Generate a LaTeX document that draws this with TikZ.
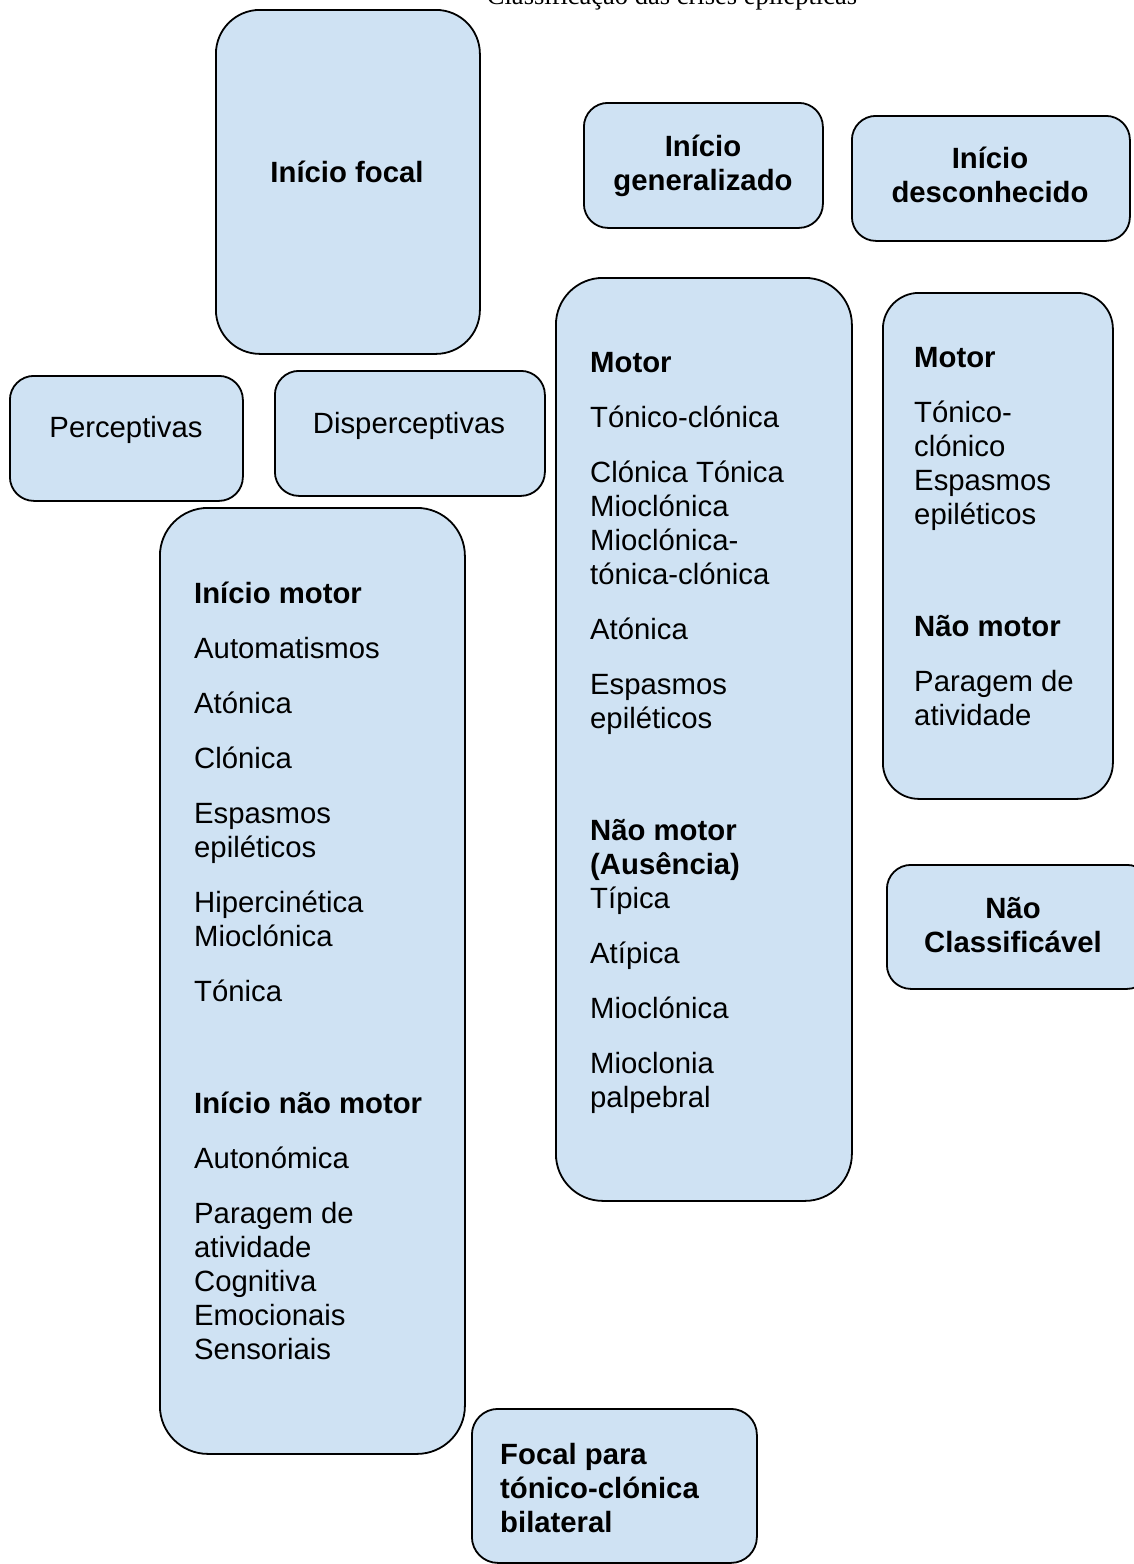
\documentclass[tikz,border=0pt]{standalone}
\usepackage{fontspec}
\setmainfont{Liberation Sans}
\newfontfamily\titlefont{Liberation Serif}
\definecolor{boxblue}{HTML}{CFE2F3}
% stacked lines; [t] keeps the node's baseline on the first line
\newcommand\rows[2]{\begin{tabular}[t]{@{}#1@{}}#2\end{tabular}}

\begin{document}
\begin{tikzpicture}[x=1pt,y=-1pt,
  card/.style={draw=black, line width=1.8pt, fill=boxblue,
    rounded corners=#1pt, anchor=north west, inner sep=0pt},
  txt/.style={inner sep=0pt, anchor=base west,
    font=\fontsize{29.3}{34}\selectfont},
  ctxt/.style={inner sep=0pt, anchor=base,
    font=\fontsize{29.3}{34}\selectfont},
  btxt/.style={ctxt, font=\fontsize{29.3}{34}\selectfont\bfseries}]

\useasboundingbox (0,0) rectangle (1134,1564);

% title
\node[inner sep=0pt, anchor=base, font=\titlefont\fontsize{26.5}{30}\selectfont]
  (title) at (672,4) {Classificação das crises epilépticas};

% boxes
\node[card=44, minimum width=264pt, minimum height=344pt] (focal) at (215,9) {};
\node[card=24, minimum width=239pt, minimum height=125pt] (gen) at (583,102) {};
\node[card=24, minimum width=278pt, minimum height=125pt] (desc) at (851,115) {};
\node[card=24, minimum width=233pt, minimum height=125pt] (perc) at (9,375) {};
\node[card=24, minimum width=270pt, minimum height=125pt] (disp) at (274,370) {};
\node[card=48, minimum width=305pt, minimum height=946pt] (focallist) at (159,507) {};
\node[card=47, minimum width=296pt, minimum height=923pt] (genlist) at (555,277) {};
\node[card=36, minimum width=230pt, minimum height=506pt] (desclist) at (882,292) {};
\node[card=24, minimum width=264pt, minimum height=124pt] (naoclass) at (886,864) {};
\node[card=26, minimum width=285pt, minimum height=154pt] (bilat) at (471,1408) {};

% box texts
\node[btxt] (focal-t) at (347,182) {Início focal};
\node[btxt] (gen-t) at (703,156) {\rows{c}{Início\\ generalizado}};
\node[btxt] (desc-t) at (990,168) {\rows{c}{Início\\ desconhecido}};
\node[ctxt] (perc-t) at (126,437) {Perceptivas};
\node[ctxt] (disp-t) at (409,433) {Disperceptivas};
\node[btxt] (naoclass-t) at (1013,918) {\rows{c}{Não\\ Classificável}};

\node[txt] (focallist-t) at (194,603) {\rows{l}{%
  \textbf{Início motor}\\[21pt]
  Automatismos\\[21pt]
  Atónica\\[21pt]
  Clónica\\[21pt]
  Espasmos\\ epiléticos\\[21pt]
  Hipercinética\\ Mioclónica\\[21pt]
  Tónica\\[78pt]
  \textbf{Início não motor}\\[21pt]
  Autonómica\\[21pt]
  Paragem de\\ atividade\\ Cognitiva\\ Emocionais\\ Sensoriais}};

\node[txt] (genlist-t) at (590,372) {\rows{l}{%
  \textbf{Motor}\\[21pt]
  Tónico-clónica\\[21pt]
  Clónica Tónica\\ Mioclónica\\ Mioclónica-\\ tónica-clónica\\[21pt]
  Atónica\\[21pt]
  Espasmos\\ epiléticos\\[78pt]
  \textbf{Não motor}\\ \textbf{(Ausência)}\\ Típica\\[21pt]
  Atípica\\[21pt]
  Mioclónica\\[21pt]
  Mioclonia\\ palpebral}};

\node[txt] (desclist-t) at (914,367) {\rows{l}{%
  \textbf{Motor}\\[21pt]
  Tónico-\\ clónico\\ Espasmos\\ epiléticos\\[78pt]
  \textbf{Não motor}\\[21pt]
  Paragem de\\ atividade}};

\node[txt] (bilat-t) at (500,1464) {\rows{l}{%
  \textbf{Focal para}\\ \textbf{tónico-clónica}\\ \textbf{bilateral}}};
\end{tikzpicture}
\end{document}
